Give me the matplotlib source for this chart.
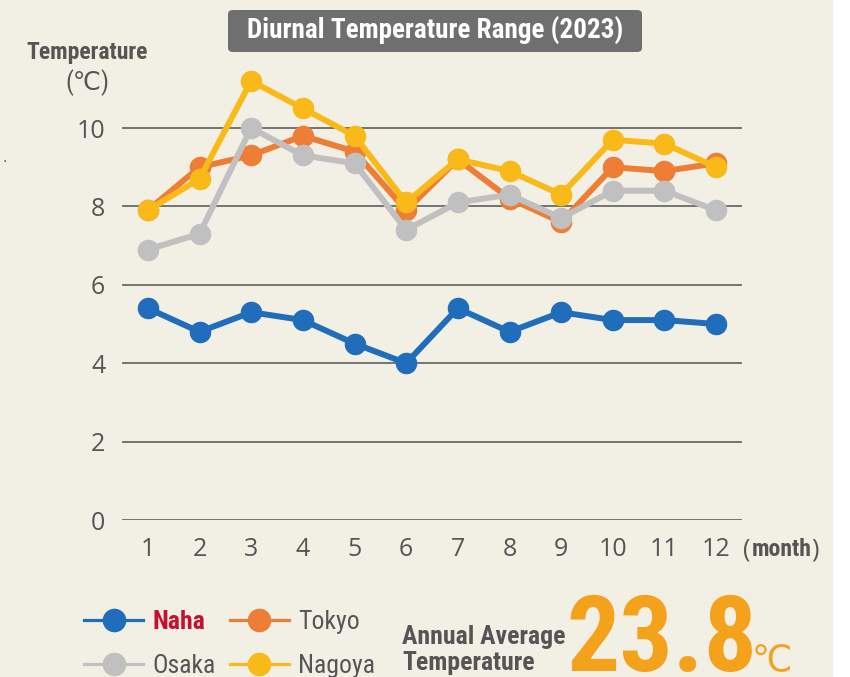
import matplotlib
matplotlib.use("Agg")
import matplotlib.pyplot as plt
import matplotlib.patches as mpatches

# ── data ──────────────────────────────────────────────
months = [1, 2, 3, 4, 5, 6, 7, 8, 9, 10, 11, 12]
naha = [5.4, 4.8, 5.3, 5.1, 4.5, 4.0, 5.4, 4.8, 5.3, 5.1, 5.1, 5.0]
tokyo = [7.9, 9.0, 9.3, 9.8, 9.4, 7.9, 9.2, 8.2, 7.6, 9.0, 8.9, 9.1]
osaka = [6.9, 7.3, 10.0, 9.3, 9.1, 7.4, 8.1, 8.3, 7.7, 8.4, 8.4, 7.9]
nagoya = [7.9, 8.7, 11.2, 10.5, 9.8, 8.1, 9.2, 8.9, 8.3, 9.7, 9.6, 9.0]
yticks = [0, 2, 4, 6, 8, 10]
annual_avg = 23.8

BG = "#f2efe4"
TXT = "#555555"
COND = ["Liberation Sans Narrow", "Roboto Condensed", "Liberation Sans", "DejaVu Sans"]
NUM = ["Open Sans", "DejaVu Sans"]

W, H = 850, 677
fig = plt.figure(figsize=(8.5, 6.77), dpi=100, facecolor="white")
fig.patches.append(mpatches.Rectangle((0, 0), 833 / W, 1, transform=fig.transFigure,
                                      facecolor=BG, edgecolor="none", zorder=-10))

ymax = 11.5
ax = fig.add_axes([122 / W, 157 / H, 620 / W, (520 - 69.2) / H])
ax.set_facecolor("none")
ax.set_xlim(0.5, 12.5)
ax.set_ylim(0, ymax)
for s in ax.spines.values():
    s.set_visible(False)
ax.set_yticks(yticks)
ax.set_xticks(months)
ax.grid(axis="y", color="#5e5e5e", lw=1.2)
ax.set_axisbelow(True)
ax.tick_params(length=0, labelsize=18, labelcolor=TXT, pad=12)
for lab in ax.get_xticklabels() + ax.get_yticklabels():
    lab.set_family(NUM)

style = dict(lw=4.3, marker="o", ms=14.5, clip_on=False)
l_naha, = ax.plot(months, naha, color="#1f6dbb", label="Naha", zorder=3, **style)
l_tokyo, = ax.plot(months, tokyo, color="#ee7d35", label="Tokyo", zorder=4, **style)
l_osaka, = ax.plot(months, osaka, color="#c0c0c0", label="Osaka", zorder=5, **style)
l_nagoya, = ax.plot(months, nagoya, color="#f9b918", label="Nagoya", zorder=6, **style)

# title box
fig.patches.append(mpatches.FancyBboxPatch(
    (228 / W, 1 - 52 / H), 414 / W, 42 / H, transform=fig.transFigure,
    boxstyle="round,pad=0,rounding_size=0.006", fc="#6f6f6f", ec="none", zorder=1))
fig.text(435 / W, 1 - 31 / H, "Diurnal Temperature Range (2023)", ha="center", va="center",
         fontsize=19.5, fontweight="bold", color="white", family=COND, zorder=2)

# axis labels
fig.text(87 / W, 1 - 52 / H, "Temperature", ha="center", va="center",
         fontsize=17, fontweight="bold", color=TXT, family=COND)
fig.text(87 / W, 1 - 83 / H, "(℃)", ha="center", va="center",
         fontsize=18, color=TXT, family=["Roboto Condensed", "DejaVu Sans"])
fig.text(743 / W, 1 - 550 / H, "(", ha="left", va="center",
         fontsize=18, color=TXT, family=NUM)
fig.text(752 / W, 1 - 550 / H, "month", ha="left", va="center",
         fontsize=17, fontweight="bold", color=TXT, family=COND)
fig.text(811 / W, 1 - 550 / H, ")", ha="left", va="center",
         fontsize=18, color=TXT, family=NUM)
fig.text(2 / W, 1 - 158 / H, ".", ha="left", va="center", fontsize=10, color=TXT)

# legend
leg = fig.legend(handles=[l_naha, l_osaka, l_tokyo, l_nagoya], ncol=2,
                 loc="center left", bbox_to_anchor=(84 / W, 1 - 644 / H),
                 frameon=False, handlelength=2.3, handletextpad=0.36,
                 columnspacing=0.55, labelspacing=0.78, borderpad=0, borderaxespad=0,
                 prop=dict(family=COND, size=18.5))
for t in leg.get_texts():
    t.set_color(TXT)
leg.get_texts()[0].set_color("#c8102e")
leg.get_texts()[0].set_fontweight("bold")
for h in leg.legend_handles:
    h.set_linewidth(2.3)
    h.set_markersize(16)

# annual average
fig.text(402 / W, 1 - 637 / H, "Annual Average", ha="left", va="center",
         fontsize=18.5, fontweight="bold", color=TXT, family=COND)
fig.text(402 / W, 1 - 663 / H, "Temperature", ha="left", va="center",
         fontsize=18.5, fontweight="bold", color=TXT, family=COND)
fig.text(662 / W, 1 - 671 / H, f"{annual_avg:.1f}", ha="center", va="baseline",
         fontsize=76, fontweight="bold", color="#f4a21c", family=COND)
fig.text(772 / W, 1 - 671 / H, "℃", ha="center", va="baseline",
         fontsize=26, color="#f4a21c", family=["Roboto Condensed", "DejaVu Sans"])

fig.savefig("out.png", dpi=100, facecolor=fig.get_facecolor())
